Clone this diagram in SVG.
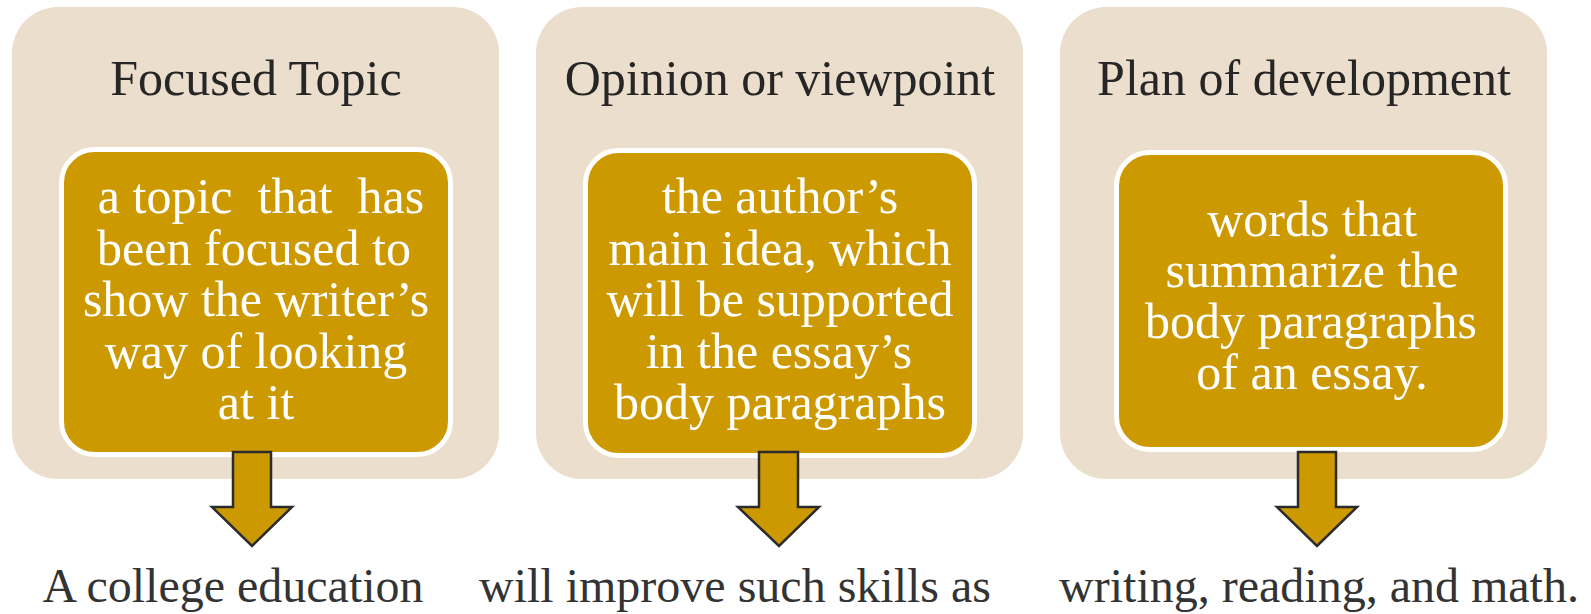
<svg xmlns="http://www.w3.org/2000/svg" width="1591" height="614" viewBox="0 0 1591 614">
<style>
.outer{fill:#ECDECC;}
.inner{fill:#CC9A00;stroke:#FFFFFF;stroke-width:5;}
.title{font-family:"Liberation Serif","Times New Roman",serif;font-size:50px;fill:#262626;text-anchor:middle;}
.body{font-family:"Liberation Serif","Times New Roman",serif;font-size:50px;fill:#FFFFFF;text-anchor:middle;white-space:pre;}
.foot{font-family:"Liberation Serif","Times New Roman",serif;font-size:48px;fill:#333333;text-anchor:middle;}
.arrow{fill:#CC9A00;stroke:#2B2B2B;stroke-width:2.5;stroke-linejoin:miter;}
</style>
<rect width="1591" height="614" fill="#FFFFFF"/>
<g id="node-focused-topic">
<rect class="outer" x="12" y="7" width="487" height="472" rx="46" ry="46"/>
<text class="title" x="256" y="95">Focused Topic</text>
<rect class="inner" x="61.5" y="149.5" width="389" height="305" rx="33" ry="33"/>
<text class="body" xml:space="preserve"><tspan x="261" y="213">a topic  that  has</tspan><tspan x="254" y="264.5">been focused to</tspan><tspan x="256" y="316">show the writer’s</tspan><tspan x="256" y="367.5">way of looking</tspan><tspan x="256" y="419">at it</tspan></text>
</g>
<g id="node-opinion">
<rect class="outer" x="536" y="7" width="487" height="472" rx="46" ry="46"/>
<text class="title" x="780" y="95">Opinion or viewpoint</text>
<rect class="inner" x="585.5" y="150.5" width="389" height="305" rx="33" ry="33"/>
<text class="body"><tspan x="780" y="213">the author’s</tspan><tspan x="780" y="264.5">main idea, which</tspan><tspan x="780" y="316">will be supported</tspan><tspan x="779" y="367.5">in the essay’s</tspan><tspan x="780" y="419">body paragraphs</tspan></text>
</g>
<g id="node-plan">
<rect class="outer" x="1060" y="7" width="487" height="472" rx="46" ry="46"/>
<text class="title" x="1304" y="95">Plan of development</text>
<rect class="inner" x="1116.5" y="152.5" width="389" height="297" rx="33" ry="33"/>
<text class="body"><tspan x="1312" y="236">words that</tspan><tspan x="1312" y="287">summarize the</tspan><tspan x="1311" y="338">body paragraphs</tspan><tspan x="1312" y="389">of an essay.</tspan></text>
</g>
<g id="connectors">
<polygon class="arrow" points="233,452 271,452 271,507 292,507 252,546 212,507 233,507"/>
<polygon class="arrow" points="759,452 798,452 798,507 819,507 779,546 738,507 759,507"/>
<polygon class="arrow" points="1298,452 1336,452 1336,507 1357,507 1317,546 1277,507 1298,507"/>
</g>
<g id="node-college">
<text class="foot" x="233" y="602">A college education</text>
</g>
<g id="node-improve">
<text class="foot" x="735" y="602">will improve such skills as</text>
</g>
<g id="node-writing">
<text class="foot" x="1319" y="602">writing, reading, and math.</text>
</g>
</svg>
